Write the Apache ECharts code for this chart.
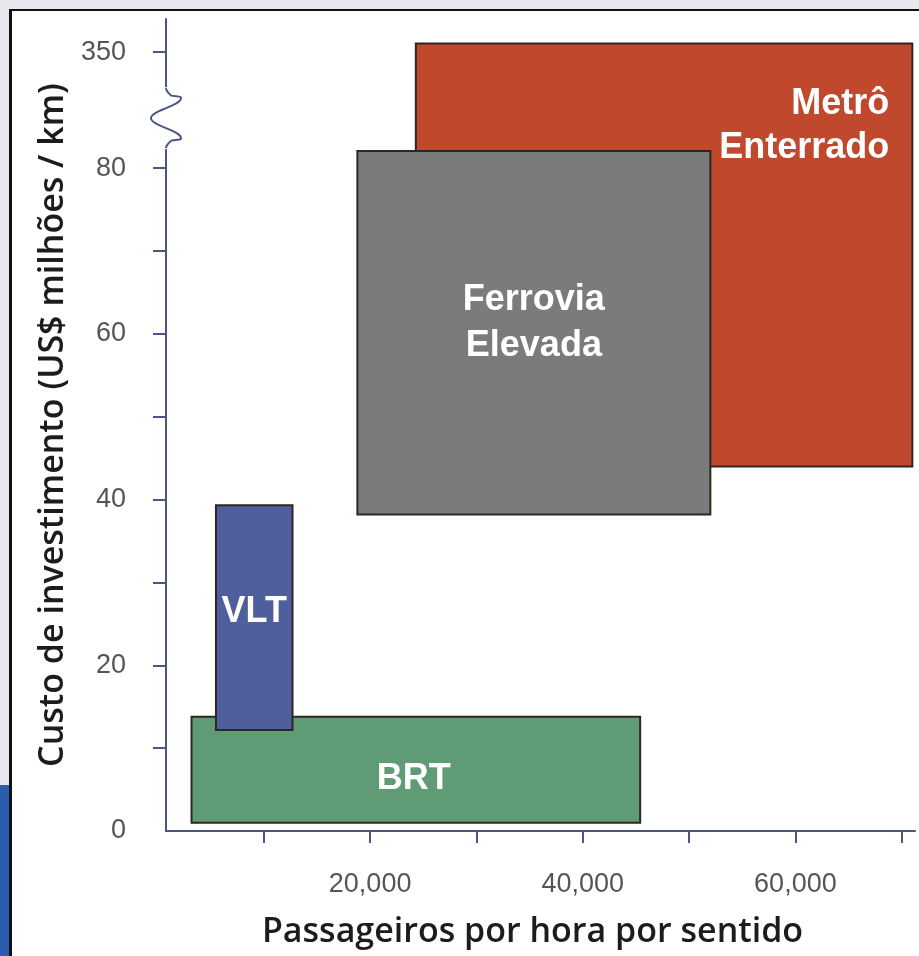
<!DOCTYPE html>
<html>
<head>
<meta charset="utf-8">
<script src="https://cdn.jsdelivr.net/npm/echarts@6/dist/echarts.min.js"></script>
<style>
  html, body { margin: 0; padding: 0; background: #fff; }
  #chart { width: 919px; height: 956px; }
</style>
</head>
<body>
<div id="chart"></div>
<script>
// modos de transporte e seus intervalos [pass. min, pass. max, custo min, custo max]
var modes = ['Metrô\nEnterrado', 'Ferrovia\nElevada', 'BRT', 'VLT'];
var paxMin = [24300, 18800, 3200, 5500];
var paxMax = [71000, 52000, 45400, 12700];
var costMin = [44, 38.2, 1, 12.2];
var costMax = [370, 120, 13.8, 39.3];
var colors = ['#bf482d', '#7a7c7b', '#5f9b74', '#4f5f9e'];

var yTicks = [10, 20, 30, 40, 50, 60, 70, 80, 350];
var yLabels = [0, 20, 40, 60, 80, 350];
var xTicks = [10000, 20000, 30000, 40000, 50000, 60000, 70000];
var xLabels = [20000, 40000, 60000];

// eixo com quebra entre 80 e 350
var BREAK = 80, SQUEEZE = 14 / 270;
function disp(v) { return v <= BREAK ? v : BREAK + (v - BREAK) * SQUEEZE; }
function undisp(d) { return d <= BREAK ? d : BREAK + (d - BREAK) / SQUEEZE; }

var textOffsets = [null, [0, -10], [-2, 9], [0, -6]];

var data = modes.map(function (m, i) {
  return [paxMin[i], paxMax[i], disp(costMin[i]), disp(costMax[i]), i];
});

var axisColor = '#4b5686';
var labelFont = '"Liberation Sans Narrow", "Arial Narrow", "Liberation Sans", sans-serif';
var titleFont = '"Open Sans", sans-serif';

var myChart = echarts.init(document.getElementById('chart'));
myChart.setOption({
  animation: false,
  backgroundColor: '#ffffff',
  grid: { left: 166, right: 4, top: 19, bottom: 125 },
  xAxis: {
    type: 'value',
    min: 800,
    max: 71250,
    name: 'Passageiros por hora por sentido',
    nameLocation: 'middle',
    nameGap: 84,
    nameTextStyle: {
      fontFamily: titleFont, fontWeight: 600, fontSize: 34,
      color: '#1c1c1c', padding: [0, 16, 0, 0]
    },
    axisLine: { lineStyle: { color: axisColor, width: 2 } },
    axisTick: { show: true, length: 12, customValues: xTicks, lineStyle: { color: axisColor, width: 2 } },
    axisLabel: {
      customValues: xLabels, margin: 40, fontSize: 27, color: '#555',
      fontFamily: labelFont,
      formatter: function (v) { return v.toLocaleString('en-US'); }
    },
    splitLine: { show: false }
  },
  yAxis: {
    type: 'value',
    min: 0,
    max: 98,
    name: 'Custo de investimento (US$ milhões / km)',
    nameLocation: 'middle',
    nameGap: 94,
    nameTextStyle: {
      fontFamily: titleFont, fontWeight: 600, fontSize: 34, color: '#1c1c1c'
    },
    axisLine: { show: true, lineStyle: { color: axisColor, width: 2 } },
    axisTick: { show: true, length: 13, customValues: yTicks.map(disp), lineStyle: { color: axisColor, width: 2 } },
    axisLabel: {
      customValues: yLabels.map(disp), margin: 40, fontSize: 27, color: '#555',
      fontFamily: labelFont,
      formatter: function (v) { return String(Math.round(undisp(v))); }
    },
    splitLine: { show: false }
  },
  series: [{
    type: 'custom',
    data: data,
    encode: { x: [0, 1], y: [2, 3] },
    renderItem: function (params, api) {
      var p0 = api.coord([api.value(0), api.value(3)]);
      var p1 = api.coord([api.value(1), api.value(2)]);
      var idx = api.value(4);
      var w = p1[0] - p0[0], h = p1[1] - p0[1];
      var textCfg = idx === 0
        ? { position: [w - 22, 40], offset: [0, 0] }
        : { position: 'inside', offset: textOffsets[idx] };
      return {
        type: 'rect',
        shape: { x: p0[0], y: p0[1], width: w, height: h },
        style: { fill: colors[idx], stroke: '#2f2622', lineWidth: 2 },
        textContent: {
          style: {
            text: modes[idx],
            fill: '#ffffff',
            fontFamily: '"Liberation Sans", Arial, sans-serif',
            fontWeight: 'bold',
            fontSize: 36,
            lineHeight: idx === 0 ? 44 : 46,
            align: idx === 0 ? 'right' : 'center',
            verticalAlign: idx === 0 ? 'top' : 'middle'
          }
        },
        textConfig: textCfg
      };
    }
  }]
});

// moldura e ondulação da quebra do eixo
var top80 = myChart.convertToPixel({ yAxisIndex: 0 }, 80);
var ax = myChart.convertToPixel({ xAxisIndex: 0 }, 800);
var y0 = top80 - 80, y1 = top80 - 20;
var wave = [];
for (var k = 0; k <= 40; k++) {
  var t = k / 40;
  wave.push([ax + 15 * Math.sin(t * 3 * Math.PI) * (t < 0.15 || t > 0.85 ? Math.sin(t * Math.PI) : 1), y0 + t * (y1 - y0)]);
}
myChart.setOption({
  graphic: [
    { type: 'rect', shape: { x: ax - 3, y: y0 - 1, width: 6, height: y1 - y0 + 2 }, style: { fill: '#fff' }, z: 10 },
    { type: 'polyline', shape: { points: wave, smooth: 0.3 }, style: { stroke: axisColor, lineWidth: 2, fill: null }, z: 11 },
    { type: 'rect', shape: { x: 0, y: 0, width: 919, height: 9 }, style: { fill: '#e7e7ed' }, z: 20 },
    { type: 'rect', shape: { x: 0, y: 0, width: 9, height: 785 }, style: { fill: '#e7e7ed' }, z: 20 },
    { type: 'rect', shape: { x: 0, y: 785, width: 9, height: 171 }, style: { fill: '#2b5cad' }, z: 20 },
    { type: 'rect', shape: { x: 9, y: 9, width: 910, height: 2 }, style: { fill: '#111' }, z: 21 },
    { type: 'rect', shape: { x: 9, y: 9, width: 3, height: 947 }, style: { fill: '#111' }, z: 21 }
  ]
});
</script>
</body>
</html>
